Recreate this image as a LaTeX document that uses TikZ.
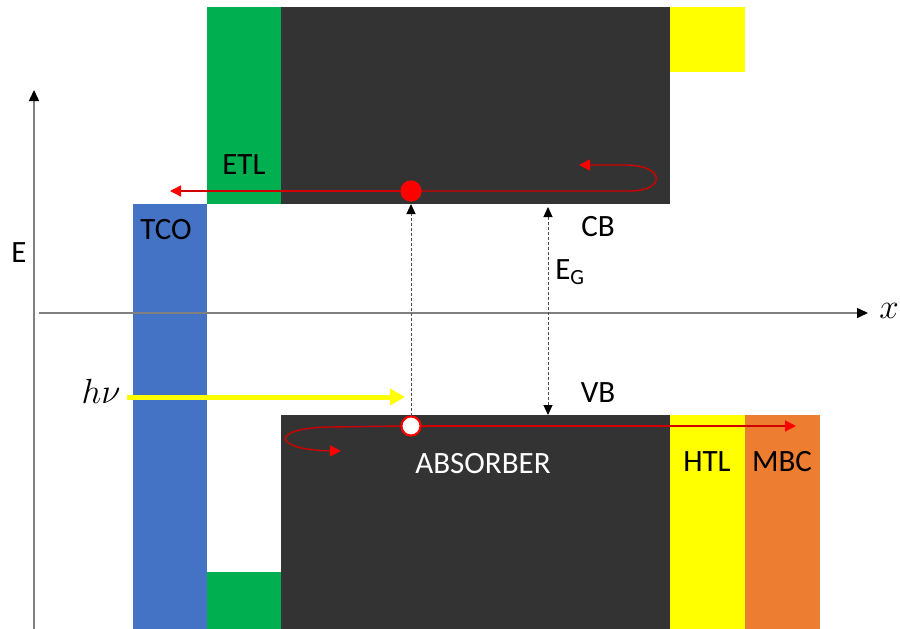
\RequirePackage{fix-cm}
\documentclass[tikz,border=0pt]{standalone}
\usepackage{fontspec}
\setmainfont{Carlito}
\usetikzlibrary{arrows.meta}
\definecolor{tcoblue}{HTML}{4472C4}
\definecolor{etlgreen}{HTML}{00B050}
\definecolor{htlyellow}{HTML}{FFFF00}
\definecolor{mbcorange}{HTML}{ED7D31}
\definecolor{bandgray}{HTML}{333333}
\definecolor{axisgray}{HTML}{808080}
\definecolor{eline}{HTML}{D00000}
\begin{document}
\begin{tikzpicture}[x=1pt,y=-1pt,
  font=\fontsize{31}{35}\selectfont,
  axis/.style={draw=axisgray, line width=1.5pt, -{Triangle[length=11pt,width=10pt,fill=black,color=black]}},
  gapline/.style={draw=black!70, line width=1pt, dash pattern=on 3pt off 2pt},
  tiparrow/.style={-{Triangle[length=10pt,width=9pt,fill=black,color=black]}},
  bitip/.style={{Triangle[length=10pt,width=9pt,fill=black,color=black]}-{Triangle[length=10pt,width=9pt,fill=black,color=black]}},
  redline/.style={draw=eline, line width=1.4pt, -{Triangle[length=11pt,width=11pt,color=red,fill=red]}},
  lbl/.style={inner sep=0pt, text=black},
  mathlbl/.style={inner sep=0pt, text=black, font=\fontsize{35}{40}\selectfont}]
\useasboundingbox (0,0) rectangle (900,629);
% layers
\fill[tcoblue] (133,204) rectangle (207,629);
\fill[etlgreen] (207,7) rectangle (281,204);
\fill[etlgreen] (207,572) rectangle (281,629);
\fill[bandgray] (281,7) rectangle (670,204);
\fill[bandgray] (281,415) rectangle (670,629);
\fill[htlyellow] (670,7) rectangle (745,72);
\fill[htlyellow] (670,415) rectangle (745,629);
\fill[mbcorange] (745,415) rectangle (820,629);
% axes
\coordinate (yb) at (34,629);
\coordinate (yt) at (34,90);
\coordinate (xl) at (39,313);
\coordinate (xr) at (868,313);
\draw[axis] (yb) -- (yt);
\draw[axis] (xl) -- (xr);
\node[mathlbl] (xlab) at (889,311) {$x$};
\node[lbl] (elab) at (19,253) {E};
% labels
\node[lbl] (tco) at (166,230) {TCO};
\node[lbl] (etl) at (244,165) {ETL};
\node[lbl, text=white] (abs) at (483,464) {ABSORBER};
\node[lbl] (htl) at (707,462) {HTL};
\node[lbl] (mbc) at (782,462) {MBC};
\node[lbl] (cb) at (598,227) {CB};
\node[lbl] (vb) at (598,393) {VB};
\node[lbl] (eg) at (570,272) {E\textsubscript{G}};
% carriers
\node[circle, fill=red, minimum size=21pt, inner sep=0pt] (edot) at (411,191) {};
\node[circle, fill=white, draw=red, line width=2pt, minimum size=19pt, inner sep=0pt] (hole) at (411,426) {};
% electron path
\coordinate (etip) at (170,191);
\coordinate (eloop) at (579,165);
\draw[redline] (edot.west) -- (etip);
\draw[redline] (edot.east) -- (630,191) .. controls (666,191) and (666,165) .. (625,165) -- (eloop);
% hole path
\coordinate (htip) at (796,426);
\coordinate (hloop) at (341,451);
\draw[redline] (hole.east) -- (htip);
\draw[redline] (hole.west) -- (330,427) .. controls (268,428) and (273,450) .. (hloop);
\node[circle, fill=red, minimum size=21pt, inner sep=0pt] at (edot) {};
\node[circle, fill=white, draw=red, line width=2pt, minimum size=19pt, inner sep=0pt] at (hole) {};
% excitation
\coordinate (exctop) at (411,204);
\draw[gapline, tiparrow] (hole.north) -- (exctop);
% band gap
\coordinate (gtop) at (548,207);
\coordinate (gbot) at (548,415);
\draw[gapline, bitip] (gtop) -- (gbot);
% photon
\node[mathlbl] (hv) at (101,391) {$h\nu$};
\coordinate (hvs) at (127,397);
\coordinate (hve) at (405,397);
\draw[draw=htlyellow, line width=5pt, -{Triangle[length=15pt,width=16pt,color=htlyellow,fill=htlyellow]}] (hvs) -- (hve);
\end{tikzpicture}
\end{document}
